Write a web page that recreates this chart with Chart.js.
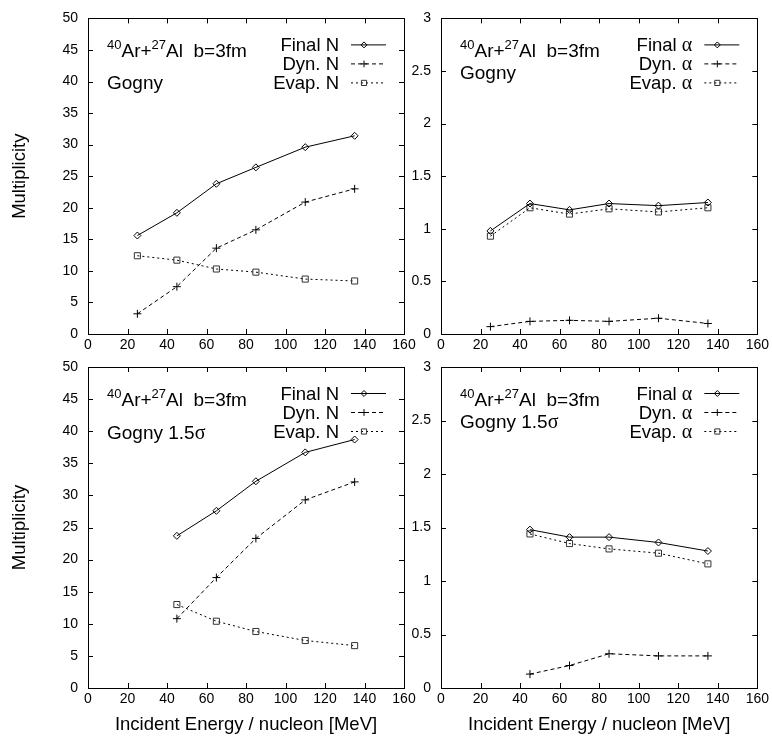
<!DOCTYPE html>
<html>
<head>
<meta charset="utf-8">
<script src="https://cdn.jsdelivr.net/npm/chart.js@4.4.0/dist/chart.umd.min.js"></script>
<style>
  html, body { margin: 0; padding: 0; background: #fff; }
  #wrap { position: relative; width: 772px; height: 742px; }
  canvas { position: absolute; left: 0; top: 0; }
</style>
</head>
<body>
<div id="wrap">
  <canvas id="c1" width="772" height="742"></canvas>
  <canvas id="c2" width="772" height="742"></canvas>
  <canvas id="c3" width="772" height="742"></canvas>
  <canvas id="c4" width="772" height="742"></canvas>
</div>
<script>
// incident energies (MeV/nucleon)
const energy = [25, 45, 65, 85, 110, 135];
const energySigma = [45, 65, 85, 110, 135];

// Gogny, neutrons
const finalN = [15.6, 19.2, 23.8, 26.4, 29.6, 31.4];
const dynN = [3.2, 7.5, 13.6, 16.5, 20.9, 23.0];
const evapN = [12.4, 11.7, 10.3, 9.8, 8.7, 8.4];

// Gogny, alphas
const finalA = [0.98, 1.24, 1.18, 1.24, 1.22, 1.25];
const dynA = [0.07, 0.12, 0.13, 0.12, 0.15, 0.10];
const evapA = [0.93, 1.20, 1.14, 1.19, 1.16, 1.20];

// Gogny 1.5 sigma, neutrons
const finalNSigma = [23.7, 27.6, 32.2, 36.7, 38.7];
const dynNSigma = [10.8, 17.2, 23.3, 29.3, 32.1];
const evapNSigma = [13.0, 10.4, 8.8, 7.4, 6.6];

// Gogny 1.5 sigma, alphas
const finalASigma = [1.48, 1.41, 1.41, 1.36, 1.28];
const dynASigma = [0.13, 0.21, 0.32, 0.30, 0.30];
const evapASigma = [1.44, 1.35, 1.30, 1.26, 1.16];

// axis ranges / tick steps
const xRange = [0, 160], xStep = 20;
const nRange = [0, 50], nStep = 5;
const aRange = [0, 3], aStep = 0.5;

const SANS = '"Liberation Sans", Arial, sans-serif';
const SERIF = '"Liberation Serif", "Times New Roman", serif';

function drawRich(ctx, parts, x, y, align) {
  let w = 0;
  parts.forEach(p => { ctx.font = p.font; w += ctx.measureText(p.t).width; });
  let cx = align === 'right' ? x - w : x;
  parts.forEach(p => {
    ctx.font = p.font;
    ctx.fillText(p.t, cx, y + (p.dy || 0));
    cx += ctx.measureText(p.t).width;
  });
}

function marker(ctx, style, x, y, r) {
  ctx.beginPath();
  if (style === 'rectRot') {
    ctx.moveTo(x, y - r); ctx.lineTo(x + r, y); ctx.lineTo(x, y + r); ctx.lineTo(x - r, y); ctx.closePath();
  } else if (style === 'cross') {
    ctx.moveTo(x - r, y); ctx.lineTo(x + r, y); ctx.moveTo(x, y - r); ctx.lineTo(x, y + r);
  } else {
    const s = r * Math.SQRT1_2;
    ctx.rect(x - s, y - s, 2 * s, 2 * s);
  }
  ctx.stroke();
}

const gnuplotPanel = {
  id: 'panel',
  afterDraw(chart, args, opts) {
    const ctx = chart.ctx;
    const a = chart.chartArea;
    const xs = chart.scales.x, ys = chart.scales.y;
    ctx.save();
    ctx.strokeStyle = '#000';
    ctx.lineWidth = 1;
    ctx.setLineDash([]);
    // frame
    ctx.strokeRect(Math.round(a.left) + 0.5, Math.round(a.top) + 0.5,
      Math.round(a.right - a.left), Math.round(a.bottom - a.top));
    // inward ticks, mirrored
    const tl = 5;
    ctx.beginPath();
    xs.ticks.forEach(t => {
      const px = Math.round(xs.getPixelForValue(t.value)) + 0.5;
      ctx.moveTo(px, a.bottom); ctx.lineTo(px, a.bottom - tl);
      ctx.moveTo(px, a.top); ctx.lineTo(px, a.top + tl);
    });
    ys.ticks.forEach(t => {
      const py = Math.round(ys.getPixelForValue(t.value)) + 0.5;
      ctx.moveTo(a.left, py); ctx.lineTo(a.left + tl, py);
      ctx.moveTo(a.right, py); ctx.lineTo(a.right - tl, py);
    });
    ctx.stroke();

    // annotation
    ctx.fillStyle = '#000';
    ctx.textBaseline = 'alphabetic';
    const big = '19px ' + SANS, sup = '13px ' + SANS;
    const ax = a.left + 19;
    drawRich(ctx, [
      {t: '40', font: sup, dy: -8},
      {t: 'Ar+', font: big},
      {t: '27', font: sup, dy: -8},
      {t: 'Al  b=3fm', font: big}
    ], ax, a.top + 39, 'left');
    const sub = [{t: 'Gogny', font: big}];
    if (opts.sigma) {
      sub[0].t = 'Gogny 1.5';
      sub.push({t: 'σ', font: '20px ' + SERIF});
    }
    drawRich(ctx, sub, ax, a.top + opts.subY, 'left');

    // key
    const lf = '18.5px ' + SANS;
    chart.data.datasets.forEach((ds, i) => {
      const cy = a.top + 26 + i * 19;
      const parts = [{t: ds.label + ' ', font: lf}];
      if (opts.alpha) parts.push({t: 'α', font: '20px ' + SERIF});
      else parts.push({t: 'N', font: lf});
      drawRich(ctx, parts, a.right - 65, cy + 6.5, 'right');
      ctx.strokeStyle = '#000';
      ctx.setLineDash(ds.borderDash);
      ctx.beginPath();
      ctx.moveTo(a.right - 53, cy + 0.5); ctx.lineTo(a.right - 18, cy + 0.5);
      ctx.stroke();
      ctx.setLineDash([]);
      ctx.strokeStyle = ds.pointBorderColor;
      marker(ctx, ds.pointStyle, a.right - 40, cy + 0.5, ds.pointRadius * 0.85);
    });
    ctx.restore();
  }
};

function makePanel(id, box, cfg) {
  const styles = [
    {name: 'Final', dash: [], style: 'rectRot', r: 3.5, color: '#000'},
    {name: 'Dyn.', dash: [4, 3], style: 'cross', r: 4, color: '#000'},
    {name: 'Evap.', dash: [2, 3], style: 'rect', r: 4.3, color: '#333'}
  ];
  const datasets = cfg.series.map((ys, k) => ({
    label: styles[k].name,
    data: cfg.x.map((x, i) => ({x: x, y: ys[i]})),
    borderColor: '#000',
    borderWidth: 1,
    borderDash: styles[k].dash,
    pointStyle: styles[k].style,
    pointRadius: styles[k].r,
    pointBorderColor: styles[k].color,
    pointBackgroundColor: 'rgba(0,0,0,0)',
    pointBorderWidth: 1,
    fill: false,
    tension: 0
  }));
  const tickFont = {family: SANS, size: 14};
  new Chart(document.getElementById(id), {
    type: 'line',
    data: {datasets: datasets},
    options: {
      responsive: false,
      animation: false,
      events: [],
      layout: {
        padding: {left: box.padLeft, right: 772 - box.right, top: box.top, bottom: 742 - box.bottom - box.xh}
      },
      scales: {
        x: {
          type: 'linear', min: xRange[0], max: xRange[1],
          ticks: {stepSize: xStep, font: tickFont, color: '#000', padding: 3, maxRotation: 0},
          grid: {display: false, drawTicks: false},
          border: {display: false},
          title: {
            display: !!cfg.xTitle, text: cfg.xTitle || '', color: '#000',
            font: {family: SANS, size: 18.5}, padding: {top: 0, bottom: 6}
          },
          afterFit: s => { s.height = box.xh; }
        },
        y: {
          type: 'linear', min: cfg.yRange[0], max: cfg.yRange[1],
          ticks: {stepSize: cfg.yStep, font: tickFont, color: '#000', padding: 10,
            callback: v => String(Math.round(v * 10) / 10)},
          grid: {display: false, drawTicks: false},
          border: {display: false},
          title: {
            display: !!cfg.yTitle, text: cfg.yTitle || '', color: '#000',
            font: {family: SANS, size: 18.5}, padding: {top: 9, bottom: 0}
          },
          afterFit: s => { s.width = box.left - box.padLeft; }
        }
      },
      plugins: {
        legend: {display: false},
        tooltip: {enabled: false},
        panel: {alpha: cfg.alpha, sigma: cfg.sigma, subY: cfg.subY}
      }
    },
    plugins: [gnuplotPanel]
  });
}

makePanel('c1', {padLeft: 0, left: 88, right: 404, top: 14, bottom: 334, xh: 20}, {
  x: energy, series: [finalN, dynN, evapN], yRange: nRange, yStep: nStep,
  yTitle: 'Multiplicity', alpha: false, sigma: false, subY: 71
});
makePanel('c2', {padLeft: 404, left: 441, right: 758, top: 14, bottom: 334, xh: 20}, {
  x: energy, series: [finalA, dynA, evapA], yRange: aRange, yStep: aStep,
  alpha: true, sigma: false, subY: 61
});
makePanel('c3', {padLeft: 0, left: 88, right: 404, top: 367, bottom: 688, xh: 54}, {
  x: energySigma, series: [finalNSigma, dynNSigma, evapNSigma], yRange: nRange, yStep: nStep,
  yTitle: 'Multiplicity', xTitle: 'Incident Energy / nucleon [MeV]', alpha: false, sigma: true, subY: 72
});
makePanel('c4', {padLeft: 404, left: 441, right: 758, top: 367, bottom: 688, xh: 54}, {
  x: energySigma, series: [finalASigma, dynASigma, evapASigma], yRange: aRange, yStep: aStep,
  xTitle: 'Incident Energy / nucleon [MeV]', alpha: true, sigma: true, subY: 61
});
</script>
</body>
</html>
